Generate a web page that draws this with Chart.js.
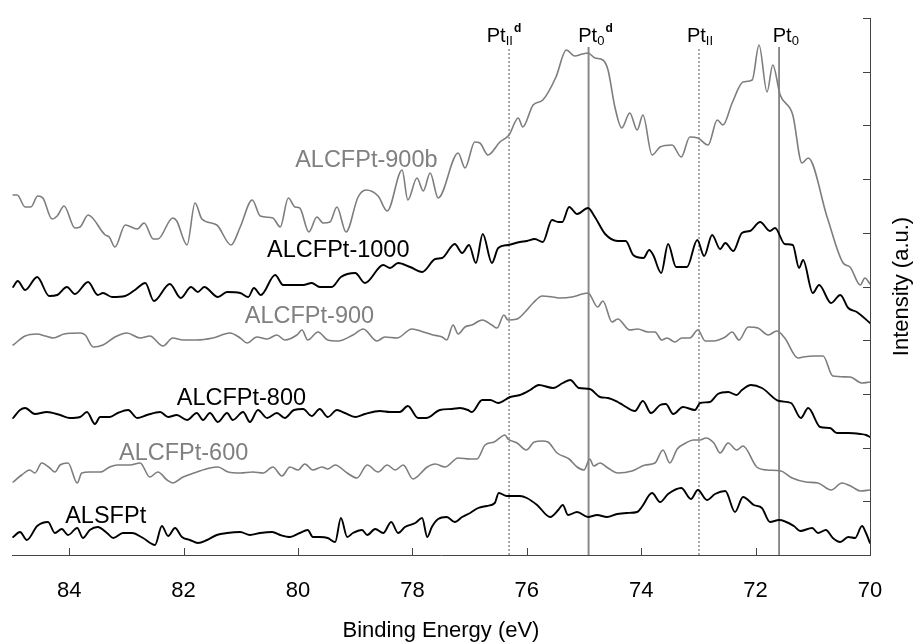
<!DOCTYPE html>
<html><head><meta charset="utf-8">
<script src="https://cdn.jsdelivr.net/npm/chart.js@4"></script>
<style>html,body{margin:0;padding:0;background:#fff;}canvas{display:block;}</style>
</head><body>
<canvas id="c" width="921" height="644"></canvas>
<script>
// ---- axis ticks ----
const xTicks = [84, 82, 80, 78, 76, 74, 72, 70];
const yTicks = [0, 53.7, 107.4, 161.1, 214.8, 268.5, 322.2, 375.9, 429.6, 483.3, 537];

// ---- series (binding energy eV, intensity a.u.) ----
const seriesNames = ['ALCFPt-900b', 'ALCFPt-1000', 'ALCFPt-900', 'ALCFPt-800', 'ALCFPt-600', 'ALSFPt'];

const s900b = [[84.98,360],[84.91,360],[84.77,348],[84.67,348],[84.55,359],[84.46,357],[84.30,336],[84.21,339],[84.09,349],[83.90,327],[83.81,328],[83.67,340],[83.37,320],[83.30,318],[83.20,308],[83.02,330],[82.81,326],[82.69,332],[82.53,316],[82.45,316],[82.19,337],[82.12,334],[81.94,310],[81.80,352],[81.68,336],[81.42,330],[81.17,310],[81.01,328],[80.80,355],[80.66,339],[80.44,337],[80.31,328],[80.17,357],[80.05,348],[79.97,347],[79.81,323],[79.67,338],[79.56,332],[79.44,333],[79.32,348],[79.16,323],[78.95,358],[78.81,365],[78.60,359],[78.44,344],[78.18,385],[78.08,355],[77.92,377],[77.81,364],[77.69,382],[77.55,357],[77.20,402],[77.08,387],[76.91,413],[76.82,412],[76.68,400],[76.47,413],[76.31,420],[76.15,437],[76.07,428],[75.89,450],[75.72,455],[75.49,478],[75.31,505],[75.16,499],[75.03,501],[74.93,502],[74.81,497],[74.67,495],[74.58,485],[74.46,448],[74.34,427],[74.20,442],[74.07,425],[73.97,440],[73.81,400],[73.67,408],[73.46,410],[73.30,398],[73.15,418],[73.01,417],[72.83,410],[72.67,435],[72.57,430],[72.41,452],[72.22,473],[72.06,475],[71.94,510],[71.80,463],[71.70,490],[71.57,460],[71.35,440],[71.19,392],[71.08,397],[70.75,338],[70.47,292],[70.35,288],[70.17,270],[70.09,277],[70.00,271]];

const s1000 = [[84.98,268],[84.90,274],[84.77,265],[84.56,278],[84.35,259],[84.21,260],[84.04,268],[83.90,261],[83.67,273],[83.50,260],[83.41,262],[83.25,258],[83.02,259],[82.85,265],[82.67,272],[82.52,254],[82.24,271],[82.05,257],[81.87,268],[81.75,263],[81.64,268],[81.40,258],[81.24,263],[81.01,262],[80.87,258],[80.77,267],[80.65,260],[80.40,280],[80.26,270],[79.91,270],[79.76,272],[79.62,268],[79.41,268],[79.25,278],[79.00,282],[78.83,272],[78.51,290],[78.39,287],[78.25,292],[78.04,288],[77.83,283],[77.60,296],[77.48,297],[77.26,311],[77.13,302],[77.01,310],[76.89,292],[76.77,321],[76.61,292],[76.50,307],[76.33,310],[76.12,313],[76.00,314],[75.86,316],[75.72,313],[75.56,335],[75.45,333],[75.38,333],[75.26,348],[75.12,341],[74.93,347],[74.81,338],[74.63,321],[74.41,314],[74.27,314],[74.14,300],[73.96,297],[73.86,305],[73.79,300],[73.65,282],[73.53,311],[73.39,288],[73.20,288],[73.02,315],[72.90,299],[72.76,320],[72.62,306],[72.53,312],[72.39,304],[72.24,322],[72.10,324],[71.92,333],[71.75,324],[71.66,327],[71.49,311],[71.35,310],[71.24,287],[71.17,295],[71.00,262],[70.89,270],[70.68,252],[70.52,260],[70.38,247],[70.23,243],[70.00,232]];

const s900 = [[84.98,210],[84.77,219],[84.56,221],[84.42,219],[84.28,217],[84.09,221],[83.81,222],[83.72,220],[83.58,208],[83.41,210],[83.20,218],[82.99,222],[82.76,217],[82.59,219],[82.36,209],[82.19,217],[82.01,215],[81.77,215],[81.49,217],[81.19,222],[81.01,217],[80.89,212],[80.72,218],[80.54,216],[80.37,220],[80.23,215],[80.02,220],[79.93,225],[79.83,215],[79.65,223],[79.48,215],[79.30,214],[79.04,220],[78.86,226],[78.62,214],[78.48,218],[78.27,217],[78.01,226],[77.81,223],[77.64,220],[77.48,218],[77.40,215],[77.29,230],[77.20,221],[77.08,228],[76.96,230],[76.78,235],[76.61,230],[76.52,227],[76.40,240],[76.33,235],[76.17,236],[76.03,243],[75.89,252],[75.73,259],[75.54,258],[75.42,257],[75.21,258],[75.03,261],[74.93,262],[74.76,248],[74.67,254],[74.51,233],[74.41,236],[74.20,225],[74.06,226],[73.88,223],[73.76,223],[73.64,215],[73.55,217],[73.41,213],[73.29,217],[73.15,217],[73.01,225],[72.88,214],[72.74,214],[72.53,218],[72.41,223],[72.29,215],[72.13,228],[71.96,227],[71.78,220],[71.63,224],[71.49,217],[71.26,197],[71.17,198],[70.97,199],[70.82,199],[70.65,179],[70.35,178],[70.14,172],[70.00,173]];

const s800 = [[84.98,137],[84.86,145],[84.77,147],[84.60,141],[84.39,143],[84.16,140],[83.99,137],[83.81,138],[83.69,143],[83.55,131],[83.46,138],[83.29,138],[83.15,142],[82.97,145],[82.81,137],[82.64,140],[82.41,143],[82.27,138],[82.12,140],[81.94,135],[81.77,142],[81.66,135],[81.54,142],[81.40,133],[81.24,142],[81.14,135],[80.96,143],[80.84,133],[80.70,145],[80.54,137],[80.37,142],[80.23,137],[80.07,145],[79.91,146],[79.76,139],[79.62,146],[79.48,138],[79.32,145],[79.18,142],[79.00,138],[78.83,141],[78.57,144],[78.39,143],[78.22,143],[78.08,149],[77.90,137],[77.76,137],[77.52,145],[77.31,146],[77.17,147],[77.03,145],[76.96,143],[76.78,155],[76.64,155],[76.50,152],[76.29,158],[76.12,160],[75.94,165],[75.79,170],[75.54,167],[75.37,172],[75.24,175],[75.09,167],[74.90,166],[74.72,158],[74.58,157],[74.41,153],[74.32,150],[74.11,144],[73.97,154],[73.83,142],[73.67,150],[73.57,151],[73.44,141],[73.27,148],[73.06,145],[72.97,152],[72.80,153],[72.66,161],[72.48,163],[72.33,160],[72.24,165],[72.08,170],[71.89,167],[71.59,154],[71.38,152],[71.21,137],[71.08,147],[70.87,128],[70.70,127],[70.58,122],[70.38,122],[70.17,121],[70.07,120],[70.00,118]];

const s600 = [[84.98,73],[84.83,80],[84.69,85],[84.60,82],[84.48,92],[84.34,87],[84.25,83],[84.16,90],[84.02,92],[83.86,72],[83.78,82],[83.64,83],[83.46,83],[83.29,88],[83.16,90],[82.94,90],[82.76,92],[82.59,78],[82.45,83],[82.29,75],[82.19,72],[82.01,78],[81.77,83],[81.54,87],[81.40,88],[81.22,83],[81.01,82],[80.79,83],[80.61,82],[80.44,88],[80.28,79],[80.14,88],[80.00,85],[79.88,91],[79.74,85],[79.58,88],[79.48,86],[79.35,90],[79.14,82],[78.97,77],[78.79,90],[78.60,83],[78.44,90],[78.30,85],[78.16,90],[77.99,76],[77.74,88],[77.60,91],[77.43,88],[77.20,97],[76.99,96],[76.87,96],[76.73,110],[76.57,113],[76.38,120],[76.33,116],[76.17,112],[76.01,105],[75.87,113],[75.73,114],[75.63,113],[75.47,102],[75.26,96],[75.12,88],[75.00,85],[74.90,96],[74.83,89],[74.72,92],[74.58,87],[74.41,82],[74.16,84],[73.93,90],[73.76,92],[73.62,105],[73.50,92],[73.37,106],[73.22,112],[73.09,115],[72.97,115],[72.87,117],[72.73,112],[72.62,102],[72.48,112],[72.33,105],[72.22,109],[71.98,88],[71.80,85],[71.56,84],[71.36,77],[71.12,73],[70.91,72],[70.68,65],[70.49,72],[70.31,68],[70.17,64],[70.00,65]];

const sALSF = [[84.98,18],[84.86,23],[84.74,15],[84.56,29],[84.37,33],[84.25,22],[84.13,26],[84.02,20],[83.86,27],[83.76,17],[83.64,25],[83.50,28],[83.34,22],[83.23,17],[83.06,22],[82.90,22],[82.71,17],[82.50,10],[82.38,29],[82.27,19],[82.15,27],[82.03,18],[81.89,15],[81.75,12],[81.59,15],[81.42,20],[81.24,22],[81.01,23],[80.84,20],[80.66,22],[80.45,23],[80.31,20],[80.14,18],[79.97,22],[79.83,25],[79.74,18],[79.62,18],[79.48,17],[79.35,13],[79.25,37],[79.14,18],[79.04,22],[78.88,25],[78.79,20],[78.65,26],[78.51,22],[78.37,33],[78.25,22],[78.13,28],[77.95,32],[77.83,37],[77.74,18],[77.66,28],[77.55,36],[77.40,38],[77.26,33],[77.13,38],[76.99,42],[76.85,47],[76.70,49],[76.56,52],[76.49,62],[76.35,59],[76.12,59],[76.00,57],[75.82,50],[75.59,38],[75.45,45],[75.37,50],[75.28,40],[75.12,43],[74.93,38],[74.77,40],[74.60,38],[74.42,41],[74.25,42],[74.07,43],[73.99,48],[73.81,62],[73.67,53],[73.53,61],[73.30,67],[73.13,56],[73.01,65],[72.85,55],[72.71,61],[72.53,64],[72.36,43],[72.22,58],[72.03,50],[71.89,47],[71.75,33],[71.59,35],[71.33,29],[71.22,24],[71.01,27],[70.91,22],[70.77,25],[70.65,17],[70.52,13],[70.38,18],[70.26,17],[70.14,29],[70.07,22],[70.00,12]];

// ---- reference peak positions (eV) ----
const refPos = [76.31, 74.92, 72.99, 71.59];
const refTop = 508;

// ---- styling / annotation config ----
const GRAY = '#7d7d7d', BLACK = '#000000';
const seriesData = [s900b, s1000, s900, s800, s600, sALSF];
const seriesColors = [GRAY, BLACK, GRAY, BLACK, GRAY, BLACK];
const seriesWidths = [1.6, 1.9, 1.6, 1.9, 1.6, 1.9];
const seriesLabelAt = [[80.05,388],[80.54,298],[80.93,232],[82.12,150],[83.13,95],[84.07,32]];
const refStyles = [
  {color:'#555', width:1, dash:[2,2]},
  {color:'#8a8a8a', width:2, dash:[]},
  {color:'#555', width:1, dash:[2,2]},
  {color:'#444', width:1.2, dash:[]}
];
const refLabels = [
  {main:'Pt', sub:'II', sup:'d', left:76.70},
  {main:'Pt', sub:'0',  sup:'d', left:75.10},
  {main:'Pt', sub:'II', sup:'',  left:73.20},
  {main:'Pt', sub:'0',  sup:'',  left:71.70}
];

const FONT = '"Liberation Sans", Arial, Helvetica, sans-serif';
Chart.defaults.font.family = FONT;
Chart.defaults.color = '#000';

const datasets = [];
seriesData.forEach((d, i) => {
  datasets.push({
    label: seriesNames[i],
    data: d.map(p => ({x: p[0], y: p[1]})),
    borderColor: seriesColors[i],
    borderWidth: seriesWidths[i],
    borderJoinStyle: 'round', borderCapStyle: 'round',
    cubicInterpolationMode: 'monotone',
    pointRadius: 0, fill: false, order: 1
  });
});
refPos.forEach((v, i) => {
  datasets.push({
    label: 'ref' + i,
    data: [{x: v, y: 0}, {x: v, y: refTop}],
    borderColor: refStyles[i].color,
    borderWidth: refStyles[i].width,
    borderDash: refStyles[i].dash,
    pointRadius: 0, fill: false, order: 5
  });
});

const decor = {
  id: 'decor',
  afterDraw(chart) {
    const ctx = chart.ctx, xs = chart.scales.x, ys = chart.scales.y, a = chart.chartArea;
    ctx.save();
    ctx.strokeStyle = '#444'; ctx.lineWidth = 1;
    ctx.beginPath();
    xTicks.forEach(v => { const px = Math.round(xs.getPixelForValue(v)) + 0.5; ctx.moveTo(px, a.bottom); ctx.lineTo(px, a.bottom - 7); });
    yTicks.forEach(v => { const py = Math.round(ys.getPixelForValue(v)) + 0.5; ctx.moveTo(a.right, py); ctx.lineTo(a.right - 7, py); });
    ctx.stroke();
    ctx.save();
    ctx.translate(902, (a.top + a.bottom) / 2);
    ctx.rotate(-Math.PI / 2);
    ctx.font = '22px ' + FONT; ctx.fillStyle = '#000';
    ctx.textAlign = 'center'; ctx.textBaseline = 'middle';
    ctx.fillText('Intensity (a.u.)', 0, 0);
    ctx.restore();
    ctx.font = '23.5px ' + FONT; ctx.textAlign = 'left'; ctx.textBaseline = 'alphabetic';
    seriesNames.forEach((n, i) => {
      ctx.fillStyle = seriesColors[i] === GRAY ? '#808080' : '#000';
      ctx.fillText(n, xs.getPixelForValue(seriesLabelAt[i][0]), ys.getPixelForValue(seriesLabelAt[i][1]));
    });
    ctx.fillStyle = '#000';
    refLabels.forEach(l => {
      let x = xs.getPixelForValue(l.left);
      const base = a.top + 24;
      ctx.font = '20px ' + FONT;
      ctx.fillText(l.main, x, base);
      x += ctx.measureText(l.main).width;
      ctx.font = '13px ' + FONT;
      ctx.fillText(l.sub, x, base + 3);
      x += ctx.measureText(l.sub).width + 1;
      if (l.sup) { ctx.font = 'bold 12px ' + FONT; ctx.fillText(l.sup, x, base - 10); }
    });
    ctx.restore();
  }
};

new Chart(document.getElementById('c'), {
  type: 'line',
  data: { datasets },
  options: {
    responsive: false, devicePixelRatio: 1, animation: false,
    layout: { padding: { left: 12, top: 18, right: 0, bottom: 0 } },
    plugins: { legend: { display: false }, tooltip: { enabled: false } },
    scales: {
      x: {
        type: 'linear', reverse: true, min: 70, max: 85,
        afterBuildTicks: s => { s.ticks = xTicks.map(v => ({ value: v })); },
        afterFit: s => { s.height = 89; },
        grid: { display: false, drawTicks: false },
        border: { display: true, color: '#444', width: 1 },
        ticks: { font: { size: 22 }, color: '#000', padding: 23, maxRotation: 0, callback: v => String(v) },
        title: { display: true, text: 'Binding Energy (eV)', font: { size: 22 }, color: '#000', padding: { top: 0, bottom: 0 } }
      },
      y: {
        type: 'linear', position: 'right', min: 0, max: 537,
        afterBuildTicks: s => { s.ticks = yTicks.map(v => ({ value: v })); },
        afterFit: s => { s.width = 51; },
        grid: { display: false, drawTicks: false },
        border: { display: true, color: '#444', width: 1 },
        ticks: { display: false }
      }
    }
  },
  plugins: [decor]
});
</script>
</body></html>
